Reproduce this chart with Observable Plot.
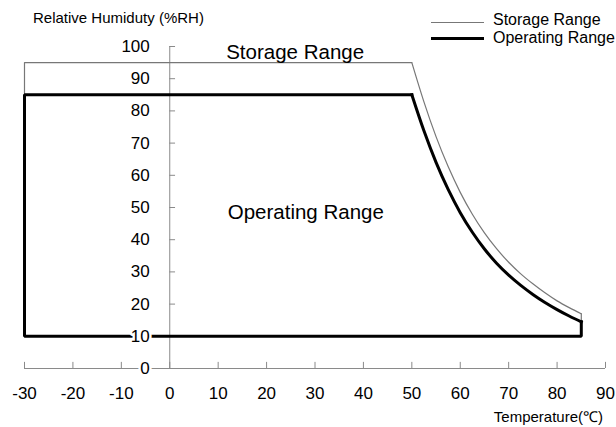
<!DOCTYPE html>
<html>
<head>
<meta charset="utf-8">
<script src="https://cdn.jsdelivr.net/npm/d3@7"></script>
<script src="https://cdn.jsdelivr.net/npm/@observablehq/plot@0.6"></script>
<style>
  body { margin: 0; background: #fff; font-family: "Liberation Sans", Arial, sans-serif; }
  #wrap { position: relative; width: 616px; height: 427px; overflow: hidden; }
  #chart { position: absolute; left: 0; top: 0; }
  .lbl { position: absolute; color: #000; white-space: nowrap; }
  .leg { position: absolute; left: 431px; width: 53px; height: 0; }
</style>
</head>
<body>
<div id="wrap">
  <div id="chart"></div>
  <div class="lbl" style="left:33px; top:9px; font-size:15px;">Relative Humiduty (%RH)</div>
  <div class="leg" style="top:22px; border-top:1px solid #777;"></div>
  <div class="leg" style="top:37px; border-top:3px solid #000;"></div>
  <div class="lbl" style="left:493px; top:12px; font-size:16px; line-height:16px;">Storage Range</div>
  <div class="lbl" style="left:493px; top:30px; font-size:16px; line-height:16px;">Operating Range</div>
  <div class="lbl" style="right:13px; top:406px; font-size:15px;">Temperature(℃)</div>
</div>
<script>
// Axis ticks
const xTicks = [-30, -20, -10, 0, 10, 20, 30, 40, 50, 60, 70, 80, 90];
const yTicks = [0, 10, 20, 30, 40, 50, 60, 70, 80, 90, 100];

// Storage range boundary (thin line)
const storageEdgeTemp = [85, 85];
const storageEdgeRH   = [14.5, 17];
const storageBoxTemp  = [50, -30, -30, -30];
const storageBoxRH    = [95, 95, 85, 10];
const storageCurveTemp = [50, 52.5, 55, 57.5, 60, 62.5, 65, 67.5, 70, 72.5, 75, 77.5, 80, 82.5, 85];
const storageCurveRH   = [95, 82.8, 72.0, 62.7, 54.7, 47.9, 42.1, 37.2, 33.0, 29.4, 26.3, 23.5, 21.0, 18.9, 17];

// Operating range boundary (thick line)
const opBoxTemp = [85, 85, -30, -30, 50];
const opBoxRH   = [14.5, 10, 10, 85, 85];
const opCurveTemp = [50, 52.5, 55, 57.5, 60, 62.5, 65, 67.5, 70, 72.5, 75, 77.5, 80, 82.5, 85];
const opCurveRH   = [85, 73.8, 64.0, 55.6, 48.4, 42.3, 37.1, 32.7, 29.0, 25.8, 23.0, 20.5, 18.3, 16.3, 14.5];

// In-chart labels
const regionLabels = ["Storage Range", "Operating Range"];
const regionTemp = [25.9, 28.1];
const regionRH = [98.2, 48.5];

const pts = (xs, ys) => xs.map((x, i) => ({x, y: ys[i]}));
const axisGray = "#8a8a8a";

const chart = Plot.plot({
  width: 616,
  height: 427,
  marginLeft: 24,
  marginRight: 11,
  marginTop: 46,
  marginBottom: 59,
  x: {domain: [-30, 90], axis: null},
  y: {domain: [0, 100], axis: null},
  style: {fontFamily: "Liberation Sans, Arial, sans-serif", background: "transparent", overflow: "visible"},
  marks: [
    // y axis at x = 0
    Plot.ruleX([0], {y1: 0, y2: 100, stroke: axisGray, strokeWidth: 1}),
    Plot.ruleY(yTicks, {y: d => d, x1: 0, x2: 1.2, stroke: axisGray, strokeWidth: 1}),
    // x axis at y = 0
    Plot.ruleY([0], {x1: -30, x2: 90, stroke: axisGray, strokeWidth: 1}),
    Plot.ruleX(xTicks, {x: d => d, y1: 0, y2: 1.9, stroke: axisGray, strokeWidth: 1}),
    // storage range (thin)
    Plot.line(pts(storageBoxTemp, storageBoxRH), {x: "x", y: "y", stroke: "#777", strokeWidth: 1.2}),
    Plot.line(pts(storageEdgeTemp, storageEdgeRH), {x: "x", y: "y", stroke: "#777", strokeWidth: 1.2}),
    Plot.line(pts(storageCurveTemp, storageCurveRH), {x: "x", y: "y", stroke: "#777", strokeWidth: 1.2, curve: "monotone-x"}),
    // operating range (thick)
    Plot.line(pts(opBoxTemp, opBoxRH), {x: "x", y: "y", stroke: "#000", strokeWidth: 3, strokeLinejoin: "miter", strokeLinecap: "square"}),
    Plot.line(pts(opCurveTemp, opCurveRH), {x: "x", y: "y", stroke: "#000", strokeWidth: 3, strokeLinecap: "square", curve: "monotone-x"}),
    // tick labels
    Plot.text(yTicks, {x: 0, y: d => d, text: d => String(d), dx: -20, textAnchor: "end", fontSize: 17, fill: "#000", stroke: "white", strokeWidth: 5, paintOrder: "stroke"}),
    Plot.text(xTicks, {x: d => d, y: 0, text: d => String(d), dy: 25, fontSize: 17, fill: "#000"}),
    // region labels
    Plot.text(regionLabels, {x: (d, i) => regionTemp[i], y: (d, i) => regionRH[i], text: d => d, fontSize: 20.5, fill: "#000"})
  ]
});
document.getElementById("chart").appendChild(chart);
</script>
</body>
</html>
